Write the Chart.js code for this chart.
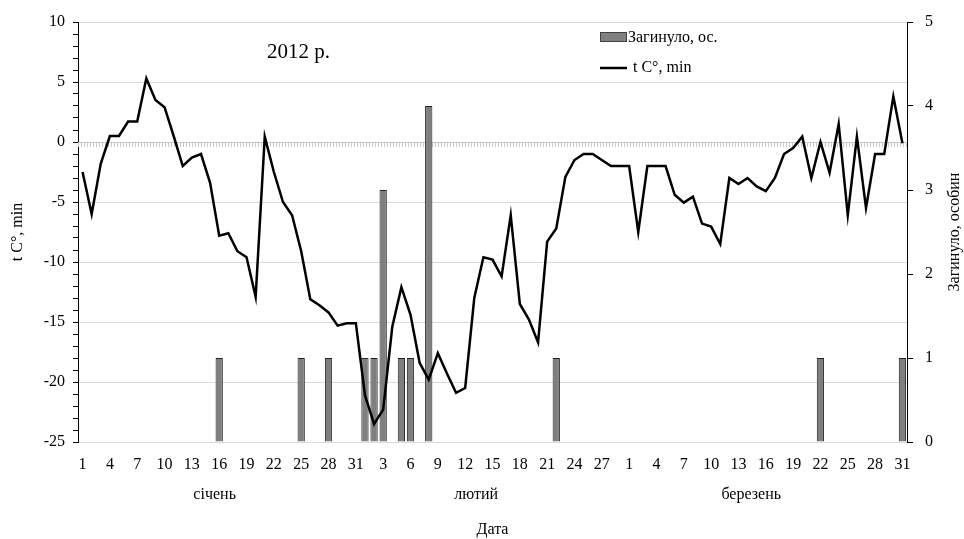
<!DOCTYPE html>
<html>
<head>
<meta charset="utf-8">
<script src="https://cdn.jsdelivr.net/npm/chart.js@4.4.1/dist/chart.umd.min.js"></script>
<style>
  html, body { margin: 0; padding: 0; background: #fff; }
  #wrap { width: 964px; height: 539px; position: relative; }
</style>
</head>
<body>
<div id="wrap"><canvas id="chart" width="964" height="539"></canvas></div>
<script>
// day labels: Jan 1-31, Feb 1-29, Mar 1-31 (2012)
const janDays = Array.from({ length: 31 }, (_, i) => String(i + 1));
const febDays = Array.from({ length: 29 }, (_, i) => String(i + 1));
const marDays = Array.from({ length: 31 }, (_, i) => String(i + 1));
const days = [...janDays, ...febDays, ...marDays];

const monthNames = ['січень', 'лютий', 'березень'];
const monthLabelPos = [14.5, 43.2, 73.4];

// t C°, min
const tempJan = [-2.5, -6.0, -1.8, 0.5, 0.5, 1.7, 1.7, 5.3, 3.5, 2.9, 0.5, -2.0, -1.3, -1.0, -3.4, -7.8,
                 -7.6, -9.1, -9.6, -12.9, 0.45, -2.5, -5.0, -6.1, -9.1, -13.1, -13.6, -14.2, -15.3, -15.1, -15.1];
const tempFeb = [-21.1, -23.5, -22.3, -15.4, -12.1, -14.4, -18.4, -19.8, -17.6, -19.3, -20.9, -20.5, -13.0, -9.6, -9.8,
                 -11.2, -6.1, -13.5, -14.8, -16.7, -8.3, -7.2, -2.9, -1.5, -1.0, -1.0, -1.5, -2.0, -2.0];
const tempMar = [-2.0, -7.5, -2.0, -2.0, -2.0, -4.4, -5.05, -4.55, -6.8, -7.05, -8.5, -3.0, -3.5, -3.0, -3.7, -4.1,
                 -3.0, -1.0, -0.5, 0.45, -3.0, 0.0, -2.55, 1.5, -6.1, 0.45, -5.5, -1.0, -1.0, 3.8, -0.1];
const tempMin = [...tempJan, ...tempFeb, ...tempMar];

// Загинуло, ос. (only non-zero days)
const deadDays = { 15: 1, 24: 1, 27: 1, 31: 1, 32: 1, 33: 3, 35: 1, 36: 1, 38: 4, 52: 1, 81: 1, 90: 1 };
const dead = days.map((_, i) => deadDays[i] || null);

const yTicksLeft = [-25, 10];
const yTicksRight = [0, 5];

const serif = "'Liberation Serif', 'Times New Roman', serif";

const extras = {
  id: 'extras',
  beforeDatasetsDraw(chart) {
    const { ctx, chartArea, scales } = chart;
    const y0 = scales.y.getPixelForValue(0);
    ctx.save();
    ctx.strokeStyle = '#c8c8c8';
    ctx.lineWidth = 1;
    ctx.beginPath();
    ctx.moveTo(chartArea.left, y0 + 0.5);
    ctx.lineTo(chartArea.right, y0 + 0.5);
    ctx.stroke();
    ctx.setLineDash([1, 2]);
    ctx.lineWidth = 4;
    ctx.beginPath();
    ctx.moveTo(chartArea.left, y0 + 3);
    ctx.lineTo(chartArea.right, y0 + 3);
    ctx.stroke();
    ctx.restore();
  },
  afterDraw(chart) {
    const { ctx, chartArea, scales } = chart;
    ctx.save();
    ctx.fillStyle = '#000';
    ctx.font = '21px ' + serif;
    ctx.textAlign = 'left';
    ctx.textBaseline = 'middle';
    ctx.fillText('2012 р.', 267, 52);

    // legend
    ctx.font = '16px ' + serif;
    ctx.fillStyle = '#808080';
    ctx.strokeStyle = '#404040';
    ctx.lineWidth = 1;
    ctx.fillRect(600.5, 32.5, 26, 9);
    ctx.strokeRect(600.5, 32.5, 26, 9);
    ctx.fillStyle = '#000';
    ctx.fillText('Загинуло, ос.', 628, 38);
    ctx.strokeStyle = '#000';
    ctx.lineWidth = 2.5;
    ctx.beginPath();
    ctx.moveTo(600, 68);
    ctx.lineTo(627, 68);
    ctx.stroke();
    ctx.fillText('t C°, min', 633, 68);

    // month labels + axis title
    ctx.textAlign = 'center';
    monthNames.forEach((m, i) => {
      ctx.fillText(m, scales.x.getPixelForValue(monthLabelPos[i]), 495);
    });
    ctx.fillText('Дата', (chartArea.left + chartArea.right) / 2, 530);

    // y titles
    const midY = (chartArea.top + chartArea.bottom) / 2;
    ctx.save();
    ctx.translate(18, midY);
    ctx.rotate(-Math.PI / 2);
    ctx.fillText('t C°, min', 0, 0);
    ctx.restore();
    ctx.save();
    ctx.translate(955, midY);
    ctx.rotate(-Math.PI / 2);
    ctx.fillText('Загинуло, особин', 0, 0);
    ctx.restore();
    ctx.restore();
  }
};

new Chart(document.getElementById('chart'), {
  data: {
    labels: days,
    datasets: [
      {
        type: 'line',
        label: 't C°, min',
        data: tempMin,
        yAxisID: 'y',
        borderColor: '#000',
        borderWidth: 2.5,
        pointRadius: 0,
        tension: 0,
        order: 1
      },
      {
        type: 'bar',
        label: 'Загинуло, ос.',
        data: dead,
        yAxisID: 'y1',
        backgroundColor: '#7f7f7f',
        borderColor: '#222',
        borderWidth: 1,
        barPercentage: 0.8,
        categoryPercentage: 1,
        order: 2
      }
    ]
  },
  options: {
    responsive: false,
    animation: false,
    layout: { padding: { top: 22, left: 0, right: 0, bottom: 0 } },
    plugins: { legend: { display: false }, tooltip: { enabled: false } },
    scales: {
      x: {
        offset: true,
        grid: { display: false },
        border: { display: false },
        ticks: {
          autoSkip: false,
          maxRotation: 0,
          padding: 5,
          color: '#000',
          font: { family: serif, size: 16 },
          callback: (v, i) => (i % 3 === 0 ? days[i] : '')
        },
        afterFit: s => { s.height = 97; }
      },
      y: {
        position: 'left',
        min: yTicksLeft[0],
        max: yTicksLeft[1],
        grid: {
          color: c => (c.tick.value % 5 === 0 && c.tick.value !== 0 ? '#d9d9d9' : 'rgba(0,0,0,0)'),
          tickColor: '#000',
          tickLength: 5,
          lineWidth: 1
        },
        border: { display: true, color: '#000', width: 1 },
        ticks: {
          stepSize: 1,
          autoSkip: false,
          padding: 8,
          color: '#000',
          font: { family: serif, size: 16 },
          callback: v => (v % 5 === 0 ? v : '')
        },
        afterFit: s => { s.width = 78; }
      },
      y1: {
        position: 'right',
        min: yTicksRight[0],
        max: yTicksRight[1],
        grid: { drawOnChartArea: false, tickColor: '#000', tickLength: 6 },
        border: { display: true, color: '#000', width: 1 },
        ticks: {
          stepSize: 1,
          padding: 12,
          color: '#000',
          font: { family: serif, size: 16 }
        },
        afterFit: s => { s.width = 57; }
      }
    }
  },
  plugins: [extras]
});
</script>
</body>
</html>
